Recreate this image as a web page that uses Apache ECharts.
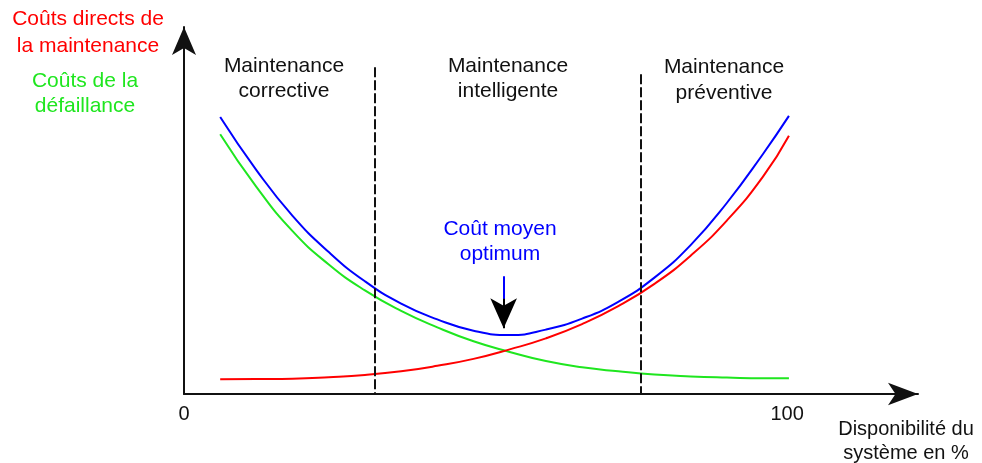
<!DOCTYPE html>
<html>
<head>
<meta charset="utf-8">
<script src="https://cdn.jsdelivr.net/npm/echarts@6/dist/echarts.min.js"></script>
<style>
    html, body { margin: 0; padding: 0; background: #fff; }
    #chart { width: 982px; height: 463px; }
</style>
</head>
<body>
<div id="chart"></div>
<script>
    /* disponibilité (0-100) */
    const dispo = [6, 12, 18, 24, 30, 36, 42, 48, 54, 60, 66, 72, 78, 84, 90, 96, 100.3]
    /* coûts */
    const coutTotal = [75.7, 61.2, 48.7, 38.8, 30.8, 24.7, 20.4, 17.3, 16.1, 17.6, 20.6, 25.2, 31.8, 40.7, 52.2, 65.6, 76.0]
    const coutDefaillance = [71.0, 56.6, 44.5, 35.4, 28.3, 22.7, 18.2, 14.4, 11.5, 9.0, 7.3, 6.2, 5.3, 4.8, 4.5, 4.3, 4.3]
    const coutDirect = [4.0, 4.1, 4.2, 4.6, 5.2, 6.2, 7.7, 9.6, 12.2, 15.2, 19.1, 24.0, 30.1, 37.8, 47.4, 59.4, 70.6]
    const xTicks = [0, 100]

    /* limites des zones de maintenance */
    const zoneX = [31.7, 75.8]
    const zoneTop = [89.3, 87.4]
    /* flèche de l'optimum */
    const optimumX = 53.0
    const optimumY = [32.2, 25.7, 18.0]

    function pairs (ys) {
        return dispo.map((x, i) => [x, ys[i]])
    }

    const font = 'Liberation Sans, Arial, sans-serif'

    function txt (x, y, text, color, size, lh) {
        return {
            type: 'text', x: x, y: y, silent: true,
            style: {
                text: text, fill: color, font: `${size || 21}px ${font}`,
                align: 'center', verticalAlign: 'middle', lineHeight: lh || 25
            }
        }
    }

    const chart = echarts.init(document.getElementById('chart'));
    chart.setOption({
        animation: false,
        grid: { left: 184, right: 64, top: 27, bottom: 69, containLabel: false, outerBoundsMode: 'none' },
        xAxis: {
            type: 'value', min: 0, max: 121.7,
            axisLine: { show: true, symbol: ['none', 'arrow'], symbolSize: [17, 30], lineStyle: { color: '#111', width: 2 } },
            axisTick: { show: false },
            splitLine: { show: false },
            axisLabel: { customValues: xTicks, fontSize: 20, color: '#111', fontFamily: font, margin: 10 }
        },
        yAxis: {
            type: 'value', min: 0, max: 100.3,
            axisLine: { show: true, symbol: ['none', 'arrow'], symbolSize: [18, 28], lineStyle: { color: '#111', width: 2 } },
            axisTick: { show: false },
            splitLine: { show: false },
            axisLabel: { show: false }
        },
        series: [
            {
                name: 'Coûts de la défaillance', type: 'line', data: pairs(coutDefaillance),
                smooth: 0.5, showSymbol: false, silent: true,
                lineStyle: { color: '#1fe61f', width: 2 }
            },
            {
                name: 'Coûts directs de la maintenance', type: 'line', data: pairs(coutDirect),
                smooth: 0.5, showSymbol: false, silent: true,
                lineStyle: { color: '#ff0000', width: 2 },
                markLine: {
                    silent: true, symbol: 'none', label: { show: false },
                    lineStyle: { color: '#111', width: 2, type: [10, 3] },
                    data: zoneX.map((x, i) => [{ coord: [x, zoneTop[i]] }, { coord: [x, 0] }])
                }
            },
            {
                name: 'Coût total', type: 'line', data: pairs(coutTotal),
                smooth: 0.5, showSymbol: false, silent: true,
                lineStyle: { color: '#0000ff', width: 2 },
                markLine: {
                    silent: true, label: { show: false },
                    data: [
                        [
                            { coord: [optimumX, optimumY[0]], symbol: 'none', lineStyle: { color: '#0000ff', width: 2, type: 'solid' } },
                            { coord: [optimumX, optimumY[1]], symbol: 'none' }
                        ],
                        [
                            { coord: [optimumX, optimumY[1] + 0.3], symbol: 'none', lineStyle: { color: '#000', width: 2, type: 'solid' } },
                            { coord: [optimumX, optimumY[2]], symbol: 'arrow', symbolSize: [20, 30] }
                        ]
                    ]
                }
            }
        ],
        graphic: [
            txt(88, 33, 'Coûts directs de\nla maintenance', '#ff0000', 21, 27),
            txt(85, 94, 'Coûts de la\ndéfaillance', '#1fe61f'),
            txt(284, 79, 'Maintenance\ncorrective', '#111'),
            txt(508, 79, 'Maintenance\nintelligente', '#111'),
            txt(724, 80, 'Maintenance\npréventive', '#111', 21, 26),
            txt(500, 242, 'Coût moyen\noptimum', '#0000ff'),
            txt(906, 441, 'Disponibilité du\nsystème en %', '#111', 20, 24)
        ]
    });
</script>
</body>
</html>
